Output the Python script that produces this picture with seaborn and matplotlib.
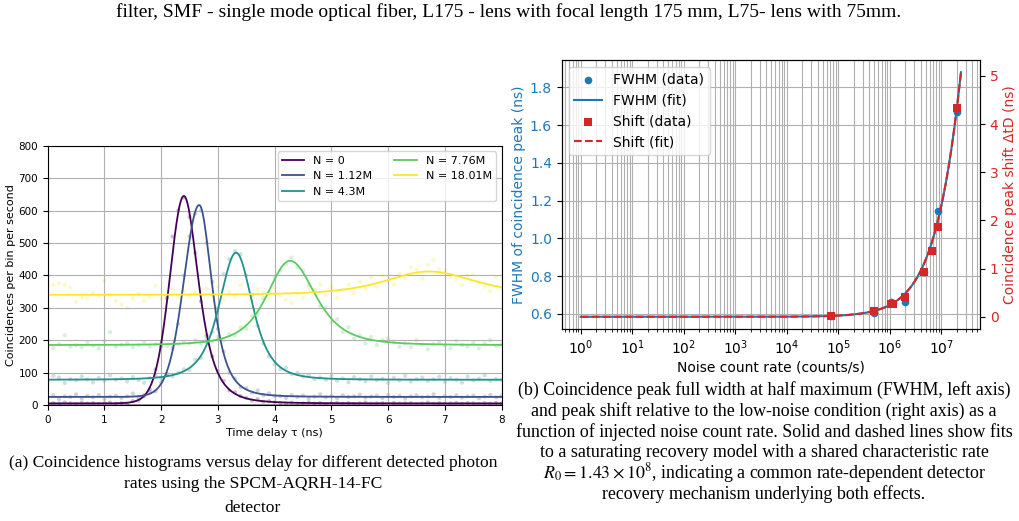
import numpy as np
import pandas as pd
import matplotlib
matplotlib.use("Agg")
import matplotlib.pyplot as plt
import seaborn as sns

# ---- (a) coincidence histograms ----
labels = ["N = 0", "N = 1.12M", "N = 4.3M", "N = 7.76M", "N = 18.01M"]
tau = np.round(np.arange(0, 8.01, 0.1), 1)

counts_n0 = [3, 6, 4, 8, 5, 2, 7, 4, 6, 3, 5, 8, 4, 6, 3,
             12, 14, 30, 48, 110, 180, 330, 520, 600, 640, 580, 470, 320, 215, 150,
             105, 75, 45, 40, 28, 22, 14, 18, 10, 12, 8,
             6, 4, 7, 3, 5, 8, 4, 6, 2, 5, 7, 4, 6, 3, 5, 8, 4, 5, 6, 3,
             7, 4, 5, 6, 2, 5, 8, 4, 6, 3, 5, 7, 4, 6, 5, 3, 6, 4, 7, 5]
counts_n1 = [22, 30, 18, 27, 25, 33, 20, 28, 24, 31, 19, 26, 29, 22, 27, 35, 24,
             28, 40, 42, 70, 95, 175, 250, 400, 520, 590, 600, 500, 380, 235, 165,
             100, 82, 55, 52, 38, 45, 30, 36, 28,
             27, 22, 31, 25, 29, 20, 26, 33, 24, 28, 21, 30, 25, 27, 32, 23, 26, 29, 22, 31,
             25, 28, 20, 27, 30, 24, 26, 33, 22, 28, 25, 30, 23, 27, 29, 21, 26, 31, 24, 28]
counts_n2 = [72, 90, 85, 68, 80, 76, 88, 79, 70, 84, 75, 92, 78, 82, 73, 86, 77, 69, 83, 90,
             82, 95, 88, 100, 110, 108, 140, 145, 195, 225, 300, 405, 450, 475, 465, 400,
             340, 245, 190, 150, 125, 110, 115, 95, 100, 88, 92, 80, 85, 78, 90,
             75, 82, 70, 86, 79, 73, 88, 77, 81, 68, 84, 76, 90, 72, 80, 85, 74, 79, 87, 71,
             83, 78, 69, 88, 76, 81, 92, 74, 80, 77]
counts_n3 = [182, 176, 188, 215, 180, 185, 178, 192, 183, 175, 198, 225, 180, 186, 190, 178,
             184, 195, 180, 188, 193, 182, 190, 187, 195,
             190, 200, 188, 205, 195, 210, 200, 218, 215, 240, 235, 275, 280, 330, 345, 395,
             415, 435, 455, 425, 415, 370, 355, 305, 300, 255, 265, 225, 240, 205, 215, 190,
             210, 185, 200, 205,
             195, 180, 190, 178, 200, 186, 172, 188, 194, 182, 176, 198, 185, 180, 192, 175,
             190, 200, 183, 188]
counts_n4 = [372, 370, 375, 371, 362, 318, 332, 330, 345, 336, 383, 338, 322, 310, 300, 330,
             342, 322, 334, 368, 330, 328, 356, 334, 350, 337, 346, 355, 360, 340, 365, 325,
             350, 335, 370, 342, 320, 358, 348, 330,
             360, 338, 325, 315, 345, 330, 360, 350, 372, 340, 365, 330, 355, 372, 345, 380,
             360, 395, 365, 400, 385, 372, 405, 392, 425, 418, 390, 432, 448, 420, 415, 395,
             388, 370, 400, 402, 378, 365, 352, 395, 360]
all_counts = [counts_n0, counts_n1, counts_n2, counts_n3, counts_n4]

# fitted peak parameters (asymmetric Pearson-type peak on a flat background)
fit_base = [5, 25, 78, 185, 340]
fit_amp = [640, 592, 392, 260, 72]
fit_center = [2.40, 2.67, 3.32, 4.27, 6.72]
fit_hwhm_left = [0.294, 0.32, 0.35, 0.48, 0.92]
fit_hwhm_right = [0.304, 0.264, 0.34, 0.53, 0.95]
fit_exp_left = [8, 8, 2, 2, 2]
fit_exp_right = [2, 2, 2, 2, 2]

# ---- (b) FWHM and shift vs noise rate ----
noise_rate = [7.1e4, 4.9e5, 1.05e6, 1.15e6, 1.95e6, 4.6e6, 6.5e6, 8.5e6, 2.0e7]
fwhm_ns = [0.591, 0.603, 0.665, 0.66, 0.665, 0.82, 0.933, 1.145, 1.671]
shift_ns = [0.02, 0.117, 0.275, 0.27, 0.42, 0.93, 1.37, 1.87, 4.33]
R0 = 1.43e8
fwhm_fit_params = (0.585, 6.3e-8)
shift_fit_params = (0.0, 2.47e-7)
fit_rate_range = (1.0, 2.4e7)


def peak(t, base, amp, t0, hl, hr, pl, pr):
    d = t - t0
    h = np.where(d < 0, hl, hr)
    p = np.where(d < 0, pl, pr)
    return base + amp * (1 + (2 ** (1 / p) - 1) * (d / h) ** 2) ** (-p)


def recovery(r, y0, a):
    r = np.asarray(r)
    return y0 + a * r / (1 + r / R0)


colors = [matplotlib.colors.to_hex(c) for c in plt.cm.viridis(np.linspace(0, 1, 5))]
pal = dict(zip(labels, colors))

pts = pd.concat([pd.DataFrame({"tau": tau, "counts": c, "N": lab})
                 for lab, c in zip(labels, all_counts)], ignore_index=True)
tfine = np.linspace(0, 8, 801)
fits = pd.concat([pd.DataFrame({"tau": tfine,
                                "fit": peak(tfine, fit_base[i], fit_amp[i], fit_center[i],
                                            fit_hwhm_left[i], fit_hwhm_right[i],
                                            fit_exp_left[i], fit_exp_right[i]),
                                "N": labels[i]})
                  for i in range(5)], ignore_index=True)

fig = plt.figure(figsize=(10.19, 5.21), dpi=100)

# left panel
ax = fig.add_axes([0.0468, 0.2226, 0.4455, 0.4977])
ax.axhline(0, color="0.55", lw=2, zorder=1)
sns.scatterplot(data=pts, x="tau", y="counts", hue="N", palette=pal, s=9,
                alpha=0.25, linewidth=0, legend=False, ax=ax)
sns.lineplot(data=fits, x="tau", y="fit", hue="N", palette=pal, lw=1.3, ax=ax)
ax.set_xlim(0, 8)
ax.set_ylim(0, 800)
ax.set_xticks(range(0, 9))
ax.set_yticks(range(0, 801, 100))
ax.grid(True, color="#b0b0b0", lw=0.8)
ax.tick_params(labelsize=7.5)
ax.set_xlabel("Time delay τ (ns)", fontsize=8, labelpad=2)
ax.set_ylabel("Coincidences per bin per second", fontsize=8, labelpad=2)
ax.legend(ncol=2, loc="upper right", fontsize=8, title=None)

# right panel
blue, red = "#1f77b4", "#d62728"
rfine = np.logspace(np.log10(fit_rate_range[0]), np.log10(fit_rate_range[1]), 400)
axb = fig.add_axes([0.5512, 0.3685, 0.4105, 0.5163])
axb.set_xscale("log")
sns.scatterplot(x=noise_rate, y=fwhm_ns, color=blue, marker="o", s=30, linewidth=0,
                label="FWHM (data)", ax=axb, zorder=3)
sns.lineplot(x=rfine, y=recovery(rfine, *fwhm_fit_params), color=blue, lw=1.5,
             label="FWHM (fit)", ax=axb)
axr = axb.twinx()
sns.scatterplot(x=noise_rate, y=shift_ns, color=red, marker="s", s=28, linewidth=0,
                label="Shift (data)", ax=axr, zorder=3)
sns.lineplot(x=rfine, y=recovery(rfine, *shift_fit_params), color=red, lw=1.5,
             linestyle="--", label="Shift (fit)", ax=axr)
h1, l1 = axb.get_legend_handles_labels()
h2, l2 = axr.get_legend_handles_labels()
axb.get_legend().remove()
axr.get_legend().remove()
axr.legend(h1 + h2, l1 + l2, loc="upper left", fontsize=10)

axb.grid(True, which="major", color="#b0b0b0", lw=0.8)
axb.xaxis.grid(True, which="minor", color="#b0b0b0", lw=0.8)
axb.set_xlabel("Noise count rate (counts/s)", fontsize=10, labelpad=2)
axb.set_ylabel("FWHM of coincidence peak (ns)", fontsize=10, color=blue, labelpad=3)
axr.set_ylabel("Coincidence peak shift ΔtD (ns)", fontsize=10, color=red, labelpad=3)
axb.tick_params(axis="y", labelcolor=blue, labelsize=10)
axb.tick_params(axis="x", labelsize=10)
axr.tick_params(axis="y", labelcolor=red, labelsize=10)

# captions
serif = "Liberation Serif"
fig.text(509 / 1019, 1 - 12 / 521, "filter, SMF - single mode optical fiber, L175 - lens with focal "
         "length 175 mm, L75- lens with 75mm.", ha="center", va="center",
         family=serif, fontsize=14)

left_caption = ["(a) Coincidence histograms versus delay for different detected photon",
                "rates using the SPCM-AQRH-14-FC"]
for i, line in enumerate(left_caption):
    fig.text(253 / 1019, 1 - (463 + 21 * i) / 521, line, ha="center", va="center",
             family=serif, fontsize=12.6)
fig.text(253 / 1019, 1 - 508 / 521, "detector", ha="center", va="center",
         family=serif, fontsize=12.6)

right_caption = ["(b) Coincidence peak full width at half maximum (FWHM, left axis)",
                 "and peak shift relative to the low-noise condition (right axis) as a",
                 "function of injected noise count rate. Solid and dashed lines show fits",
                 "to a saturating recovery model with a shared characteristic rate",
                 r"$R_0 = 1.43 \times 10^8$, indicating a common rate-dependent detector",
                 "recovery mechanism underlying both effects."]
for i, line in enumerate(right_caption):
    fig.text(764 / 1019, 1 - (390 + 20.8 * i) / 521, line, ha="center", va="center",
             family=serif, fontsize=12.9, math_fontfamily="stix")

fig.savefig("out.png", dpi=100)
